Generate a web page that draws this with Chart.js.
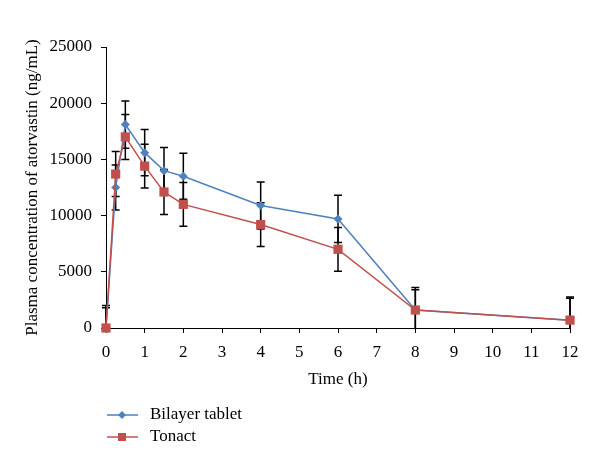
<!DOCTYPE html>
<html>
<head>
<meta charset="utf-8">
<title>Plasma concentration of atorvastin</title>
<script src="https://cdn.jsdelivr.net/npm/chart.js@4/dist/chart.umd.min.js"></script>
<style>
    html, body { margin: 0; padding: 0; background: #ffffff; }
    #wrap { position: relative; width: 600px; height: 470px; }
</style>
</head>
<body>
<div id="wrap"><canvas id="pkChart" width="600" height="470"></canvas></div>
<script>
// Time points (h)
const times = [0, 0.25, 0.5, 1, 1.5, 2, 4, 6, 8, 12];

// Mean plasma concentration (ng/mL)
const bilayer = [0, 12500, 18100, 15600, 14000, 13500, 10900, 9700, 1600, 700];
const tonact = [0, 13700, 17000, 14400, 12100, 11000, 9200, 7000, 1600, 700];

// Standard deviations (ng/mL)
const bilayerErr = [2000, 2000, 2100, 2050, 2050, 2050, 2100, 2100, 2000, 2050];
const tonactErr = [1800, 2000, 2000, 1950, 2000, 1950, 1950, 1950, 1800, 1950];

// Axis ticks
const xTicks = [0, 1, 2, 3, 4, 5, 6, 7, 8, 9, 10, 11, 12];
const yTicks = [0, 5000, 10000, 15000, 20000, 25000];

const seriesNames = ['Bilayer tablet', 'Tonact'];
const BLUE = '#4f81bd';
const RED = '#c0504d';
const FONT = "'Liberation Serif', 'DejaVu Serif', serif";

const toPoints = values => values.map((v, i) => ({ x: times[i], y: v }));

// Error bars drawn behind the markers, using the chart's own scales
const errorBarPlugin = {
    id: 'errorBars',
    beforeDatasetsDraw(chart) {
        const ctx = chart.ctx;
        const xs = chart.scales.x;
        const ys = chart.scales.y;
        const errs = [bilayerErr, tonactErr];
        ctx.save();
        ctx.strokeStyle = '#000000';
        ctx.lineWidth = 1.5;
        chart.data.datasets.forEach((ds, d) => {
            ds.data.forEach((p, i) => {
                const e = errs[d][i];
                const px = xs.getPixelForValue(p.x);
                const top = ys.getPixelForValue(p.y + e);
                const lowVal = Math.max(p.y - e, ys.min);
                const bottom = ys.getPixelForValue(lowVal);
                ctx.beginPath();
                ctx.moveTo(px, top);
                ctx.lineTo(px, bottom);
                ctx.moveTo(px - 4, top);
                ctx.lineTo(px + 4, top);
                if (p.y - e >= ys.min) {
                    ctx.moveTo(px - 4, bottom);
                    ctx.lineTo(px + 4, bottom);
                }
                ctx.stroke();
            });
        });
        ctx.restore();
    }
};

// Vertical legend under the plot
const legendPlugin = {
    id: 'stackedLegend',
    afterDraw(chart) {
        const ctx = chart.ctx;
        const rows = [
            { name: seriesNames[0], color: BLUE, shape: 'diamond', y: 415 },
            { name: seriesNames[1], color: RED, shape: 'square', y: 437 }
        ];
        ctx.save();
        rows.forEach(r => {
            ctx.strokeStyle = r.color;
            ctx.fillStyle = r.color;
            ctx.lineWidth = 1.5;
            ctx.beginPath();
            ctx.moveTo(107, r.y);
            ctx.lineTo(138, r.y);
            ctx.stroke();
            ctx.beginPath();
            if (r.shape === 'diamond') {
                ctx.moveTo(122, r.y - 4);
                ctx.lineTo(126, r.y);
                ctx.lineTo(122, r.y + 4);
                ctx.lineTo(118, r.y);
                ctx.closePath();
                ctx.fill();
            } else {
                ctx.fillRect(118, r.y - 4, 8, 8);
            }
            ctx.fillStyle = '#000000';
            ctx.font = '17px ' + FONT;
            ctx.textAlign = 'left';
            ctx.textBaseline = 'middle';
            ctx.fillText(r.name, 150, r.y);
        });
        ctx.restore();
    }
};

function initChart() {
    const ctx = document.getElementById('pkChart').getContext('2d');
    new Chart(ctx, {
        type: 'line',
        data: {
            datasets: [{
                label: seriesNames[0],
                data: toPoints(bilayer),
                borderColor: BLUE,
                backgroundColor: BLUE,
                borderWidth: 1.5,
                pointStyle: 'rectRot',
                pointRadius: 4.5,
                pointBorderWidth: 0,
                tension: 0,
                clip: false,
                order: 1
            }, {
                label: seriesNames[1],
                data: toPoints(tonact),
                borderColor: RED,
                backgroundColor: RED,
                borderWidth: 1.5,
                pointStyle: 'rect',
                pointRadius: 6.5,
                pointBorderWidth: 0,
                tension: 0,
                clip: false,
                order: 0
            }]
        },
        options: {
            responsive: false,
            animation: false,
            layout: {
                padding: { left: 18, top: 47, right: 30, bottom: 76 }
            },
            plugins: {
                legend: { display: false },
                tooltip: { enabled: false }
            },
            scales: {
                x: {
                    type: 'linear',
                    min: 0,
                    max: 12,
                    afterBuildTicks: scale => {
                        scale.ticks = xTicks.map(v => ({ value: v }));
                    },
                    afterFit: scale => { scale.height = 66; },
                    grid: {
                        drawOnChartArea: false,
                        color: '#000000',
                        tickLength: 5
                    },
                    border: { color: '#000000', width: 1 },
                    ticks: {
                        color: '#000000',
                        padding: 9,
                        font: { family: FONT, size: 17 }
                    },
                    title: {
                        display: true,
                        text: 'Time (h)',
                        color: '#000000',
                        font: { family: FONT, size: 17 }
                    }
                },
                y: {
                    type: 'linear',
                    min: 0,
                    max: 25000,
                    afterBuildTicks: scale => {
                        scale.ticks = yTicks.map(v => ({ value: v }));
                    },
                    afterFit: scale => { scale.width = 88; },
                    grid: {
                        drawOnChartArea: false,
                        color: '#000000',
                        tickLength: 5
                    },
                    border: { color: '#000000', width: 1 },
                    ticks: {
                        color: '#000000',
                        padding: 9,
                        font: { family: FONT, size: 17 },
                        callback: value => String(value)
                    },
                    title: {
                        display: true,
                        text: 'Plasma concentration of atorvastin (ng/mL)',
                        color: '#000000',
                        font: { family: FONT, size: 17 }
                    }
                }
            }
        },
        plugins: [errorBarPlugin, legendPlugin]
    });
}

initChart();
</script>
</body>
</html>
